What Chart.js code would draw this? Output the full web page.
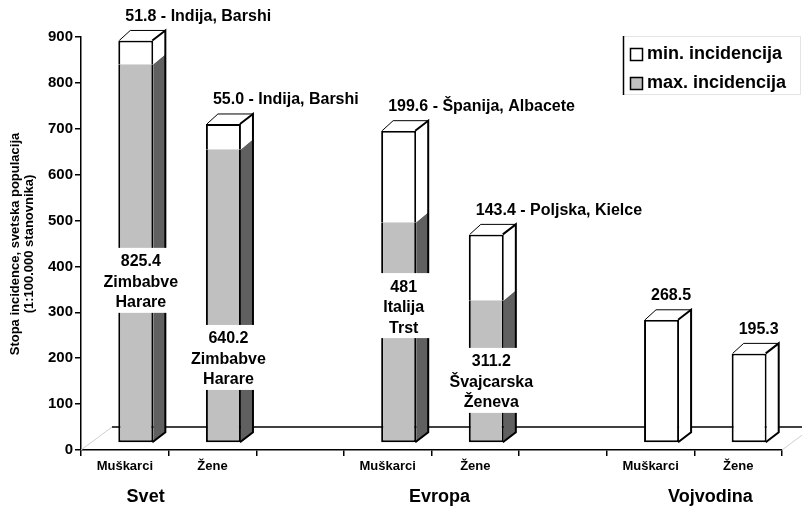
<!DOCTYPE html>
<html>
<head>
<meta charset="utf-8">
<script src="https://cdn.jsdelivr.net/npm/chart.js@4.4.0/dist/chart.umd.min.js"></script>
<style>
    html, body { margin: 0; padding: 0; background: #fff; }
</style>
</head>
<body>
<canvas id="chart-item" width="802" height="506"></canvas>
<script>
/* ------------------------------------------------- */
// Data

var categories = ['Muškarci', 'Žene', '', 'Muškarci', 'Žene', '', 'Muškarci', 'Žene']
var groups = ['Svet', 'Evropa', 'Vojvodina']
var maxValues = [825.4, 640.2, null, 481, 311.2, null, null, null]
var minValues = [51.8, 55.0, null, 199.6, 143.4, null, 268.5, 195.3]
var maxPlaces = [['Zimbabve', 'Harare'], ['Zimbabve', 'Harare'], null, ['Italija', 'Trst'], ['Švajcarska', 'Ženeva'], null, null, null]
var minPlaces = ['Indija, Barshi', 'Indija, Barshi', null, 'Španija, Albacete', 'Poljska, Kielce', null, null, null]
var yTicks = [0, 100, 200, 300, 400, 500, 600, 700, 800, 900]

var FONT = '"Liberation Sans", Arial, sans-serif'

// 3D look
var SHIFT_X = 11, SHIFT_Y = -7
var DEPTH_X = 12, DEPTH_Y = -10
var FLOOR_X = 31, FLOOR_Y = -23
var GRAY = '#c0c0c0', GRAY_SIDE = '#606060'

// where the white max-label boxes sit (axis value of first line)
var maxLabelAt = [410, 242, null, 355, 192]
var groupShift = [-23, 8, 16]

function line(ctx, x1, y1, x2, y2) {
    ctx.beginPath()
    ctx.moveTo(x1, y1)
    ctx.lineTo(x2, y2)
    ctx.stroke()
}

var bars3d = {
    id: 'bars3d',
    beforeDatasetsDraw(chart) {
        var ctx = chart.ctx, a = chart.chartArea
        ctx.save()
        ctx.strokeStyle = '#cfcfcf'
        ctx.lineWidth = 1
        line(ctx, a.left, a.bottom, a.left + FLOOR_X, a.bottom + FLOOR_Y)
        line(ctx, a.right, a.bottom, a.right + FLOOR_X, a.bottom + FLOOR_Y)
        ctx.strokeStyle = '#000'
        ctx.lineWidth = 1.5
        line(ctx, a.left + FLOOR_X, a.bottom + FLOOR_Y, a.right + FLOOR_X, a.bottom + FLOOR_Y)
        ctx.restore()
        ctx.save()
        ctx.translate(SHIFT_X, SHIFT_Y)
    },
    afterDatasetsDraw(chart) {
        var ctx = chart.ctx
        var metaMax = chart.getDatasetMeta(0), metaMin = chart.getDatasetMeta(1)
        categories.forEach(function (c, i) {
            var segs = []
            if (maxValues[i] != null) segs.push({ el: metaMax.data[i], side: GRAY_SIDE })
            if (minValues[i] != null) segs.push({ el: metaMin.data[i], side: '#fff' })
            if (!segs.length) return
            var first = segs[0].el
            var right = first.x + first.width / 2, left = first.x - first.width / 2
            var bottom = first.base
            var top = segs[segs.length - 1].el.y
            segs.forEach(function (s) {
                ctx.fillStyle = s.side
                ctx.beginPath()
                ctx.moveTo(right, s.el.y)
                ctx.lineTo(right + DEPTH_X, s.el.y + DEPTH_Y)
                ctx.lineTo(right + DEPTH_X, s.el.base + DEPTH_Y)
                ctx.lineTo(right, s.el.base)
                ctx.closePath()
                ctx.fill()
            })
            // top face
            ctx.fillStyle = '#fff'
            ctx.beginPath()
            ctx.moveTo(left, top)
            ctx.lineTo(left + DEPTH_X, top + DEPTH_Y)
            ctx.lineTo(right + DEPTH_X, top + DEPTH_Y)
            ctx.lineTo(right, top)
            ctx.closePath()
            ctx.fill()
            ctx.strokeStyle = '#000'
            ctx.lineWidth = 1
            ctx.beginPath()
            ctx.moveTo(left + 1, top)
            ctx.lineTo(left + DEPTH_X, top + DEPTH_Y)
            ctx.lineTo(right + DEPTH_X, top + DEPTH_Y)
            ctx.stroke()
            ctx.lineWidth = 2
            ctx.beginPath()
            ctx.moveTo(right - 1, top)
            ctx.lineTo(right + DEPTH_X, top + DEPTH_Y)
            ctx.lineTo(right + DEPTH_X, bottom + DEPTH_Y)
            ctx.lineTo(right - 1, bottom)
            ctx.stroke()
        })
        ctx.restore()
    },
    afterDraw(chart) {
        var ctx = chart.ctx, a = chart.chartArea
        var xs = chart.scales.x, ys = chart.scales.y
        var metaMax = chart.getDatasetMeta(0), metaMin = chart.getDatasetMeta(1)
        ctx.save()
        ctx.textBaseline = 'middle'
        ctx.fillStyle = '#000'

        // labels above the bars (min. incidencija)
        ctx.font = 'bold 16px ' + FONT
        ctx.textAlign = 'left'
        categories.forEach(function (c, i) {
            if (minValues[i] == null) return
            var el = metaMin.data[i]
            var txt = minValues[i].toFixed(1) + (minPlaces[i] ? ' - ' + minPlaces[i] : '')
            ctx.fillText(txt, el.x - el.width / 2 + SHIFT_X + 7, el.y + SHIFT_Y - 24)
        })

        // labels in white boxes (max. incidencija)
        ctx.textAlign = 'center'
        categories.forEach(function (c, i) {
            if (maxValues[i] == null) return
            var el = metaMax.data[i]
            var lines = [String(maxValues[i])].concat(maxPlaces[i])
            var xc = el.x + SHIFT_X + 5
            var y0 = ys.getPixelForValue(maxLabelAt[i])
            var w = Math.max(60, Math.max.apply(null, lines.map(function (l) { return ctx.measureText(l).width })) + 8)
            ctx.fillStyle = '#fff'
            ctx.fillRect(xc - w / 2, y0 - 14, w, (lines.length - 1) * 20.5 + 24)
            ctx.fillStyle = '#000'
            lines.forEach(function (l, k) {
                ctx.fillText(l, xc, y0 + k * 20.5)
            })
        })

        // group names
        ctx.font = 'bold 18px ' + FONT
        groups.forEach(function (g, k) {
            var mid = (xs.getPixelForValue(k * 3) + xs.getPixelForValue(k * 3 + 1)) / 2
            ctx.fillText(g, mid + groupShift[k], 497)
        })

        // y axis title
        ctx.font = 'bold 13px ' + FONT
        ctx.save()
        ctx.translate(15, 244)
        ctx.rotate(-Math.PI / 2)
        ctx.fillText('Stopa incidence, svetska populacija', 0, 0)
        ctx.fillText('(1:100.000 stanovnika)', 0, 14)
        ctx.restore()

        // legend
        ctx.strokeStyle = '#e4e4e4'
        ctx.lineWidth = 1
        ctx.strokeRect(623.5, 36.5, 177, 58)
        ctx.strokeStyle = '#000'
        ctx.lineWidth = 1.5
        line(ctx, 623.5, 36, 623.5, 95)
        ctx.fillStyle = '#fff'
        ctx.fillRect(630, 48, 12, 12)
        ctx.strokeRect(630.5, 48.5, 12, 12)
        ctx.fillStyle = GRAY
        ctx.fillRect(630, 77, 12, 12)
        ctx.strokeRect(630.5, 77.5, 12, 12)
        ctx.fillStyle = '#000'
        ctx.textAlign = 'left'
        ctx.font = 'bold 18px ' + FONT
        ctx.fillText('min. incidencija', 647, 54)
        ctx.fillText('max. incidencija', 647, 83)
        ctx.restore()
    }
}

const ctx = document.getElementById('chart-item').getContext('2d');
const myChart = new Chart(ctx, {
    type: 'bar',
    data: {
        labels: categories,
        datasets: [{
            label: 'max. incidencija',
            data: maxValues,
            backgroundColor: GRAY,
            borderColor: '#000',
            borderWidth: { left: 2, right: 2, bottom: 2, top: 0 },
            borderSkipped: false
        }, {
            label: 'min. incidencija',
            data: minValues,
            backgroundColor: '#fff',
            borderColor: '#000',
            borderWidth: function (c) {
                return { left: 2, right: 2, top: 2, bottom: maxValues[c.dataIndex] == null ? 2 : 0 }
            },
            borderSkipped: false
        }]
    },
    options: {
        responsive: false,
        animation: false,
        layout: { padding: { top: 37, right: 20, left: 0, bottom: 0 } },
        datasets: { bar: { barPercentage: 0.4, categoryPercentage: 1, clip: false } },
        plugins: { legend: { display: false }, tooltip: { enabled: false } },
        scales: {
            x: {
                stacked: true,
                afterFit: function (s) { s.height = 56 },
                grid: { drawOnChartArea: false, tickLength: 6, color: '#000', lineWidth: 1.5, offset: true },
                border: { color: '#000', width: 1.5 },
                ticks: { color: '#000', padding: 3, font: { family: FONT, size: 13, weight: 'bold' }, maxRotation: 0, autoSkip: false }
            },
            y: {
                stacked: true,
                min: 0,
                max: 900,
                afterFit: function (s) { s.width = 81 },
                afterBuildTicks: function (s) { s.ticks = yTicks.map(function (v) { return { value: v } }) },
                grid: { drawOnChartArea: false, tickLength: 6, color: '#000', lineWidth: 1.5 },
                border: { color: '#000', width: 1.5 },
                ticks: { color: '#000', padding: 2, font: { family: FONT, size: 15, weight: 'bold' } }
            }
        }
    },
    plugins: [bars3d]
});
</script>
</body>
</html>
